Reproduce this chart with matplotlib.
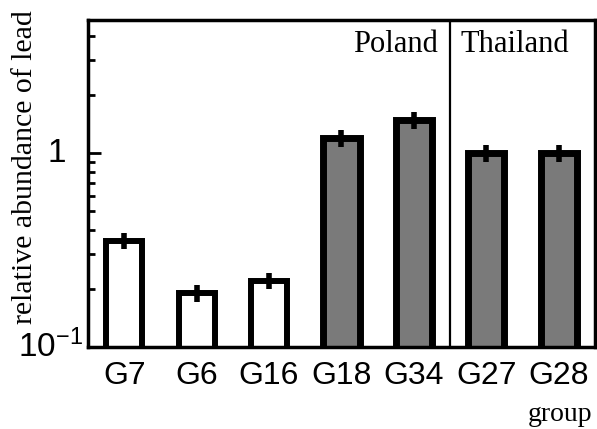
import matplotlib
matplotlib.use('Agg')
import matplotlib.pyplot as plt
from matplotlib.transforms import offset_copy

# data
groups = ['G7', 'G6', 'G16', 'G18', 'G34', 'G27', 'G28']
abundance = [0.354, 0.190, 0.220, 1.195, 1.485, 1.0, 1.0]
errors = [0.035, 0.019, 0.022, 0.12, 0.15, 0.10, 0.10]
shaded = [False, False, False, True, True, True, True]
region_labels = ['Poland', 'Thailand']

SANS = 'Liberation Sans'
SERIF = 'Liberation Serif'
plt.rcParams['mathtext.default'] = 'regular'

fig = plt.figure(figsize=(5.97, 4.29), dpi=100)
ax = fig.add_axes([0.1474, 0.1911, 0.8492, 0.7623])

x = list(range(len(groups)))
faces = ['#7a7a7a' if s else 'white' for s in shaded]
lws = [5.0 if s else 4.3 for s in shaded]
ax.bar(x, abundance, width=0.5, color=faces, edgecolor='black',
       linewidth=lws, zorder=2)
ax.errorbar(x, abundance, yerr=errors, fmt='none', ecolor='black',
            elinewidth=4, capsize=0, zorder=3)

ax.set_yscale('log')
ax.set_ylim(0.1, 4.85)
ax.set_xlim(-0.5, len(groups) - 0.5)

# divider between Poland and Thailand groups
ax.axvline(4.5, color='black', linewidth=1.6, zorder=1)
ax.text(4.33, 0.902, region_labels[0], transform=ax.get_xaxis_transform(),
        ha='right', va='baseline', fontsize=22, family=SERIF)
ax.text(4.64, 0.902, region_labels[1], transform=ax.get_xaxis_transform(),
        ha='left', va='baseline', fontsize=22, family=SERIF)

for s in ax.spines.values():
    s.set_linewidth(2.5)

ax.set_xticks(x)
ax.set_xticklabels(groups, fontsize=23, family=SANS)
ax.tick_params(axis='x', length=0, pad=10)

ax.tick_params(axis='y', which='both', direction='in', right=False,
               labelleft=False, width=2)
ax.tick_params(axis='y', which='major', length=9)
ax.tick_params(axis='y', which='minor', length=5)

# y tick labels placed by hand, the way the original sits them
ytr = ax.get_yaxis_transform()
ax.text(-0.061, 1.0, '1', transform=ytr, ha='center', va='center',
        fontsize=24, family=SANS)
ax.text(-0.010, 0.1, r'$10^{-1}$',
        transform=offset_copy(ytr, fig=fig, y=-7, units='points'),
        ha='right', va='baseline', fontsize=24, family=SANS)

fig.text(0.042, 0.61, 'relative abundance of lead', rotation=90,
         ha='center', va='center', fontsize=21.5, family=SERIF)
fig.text(0.992, 0.033, 'group', ha='right', va='center', fontsize=20,
         family=SERIF)

fig.savefig('out.png', dpi=100)
